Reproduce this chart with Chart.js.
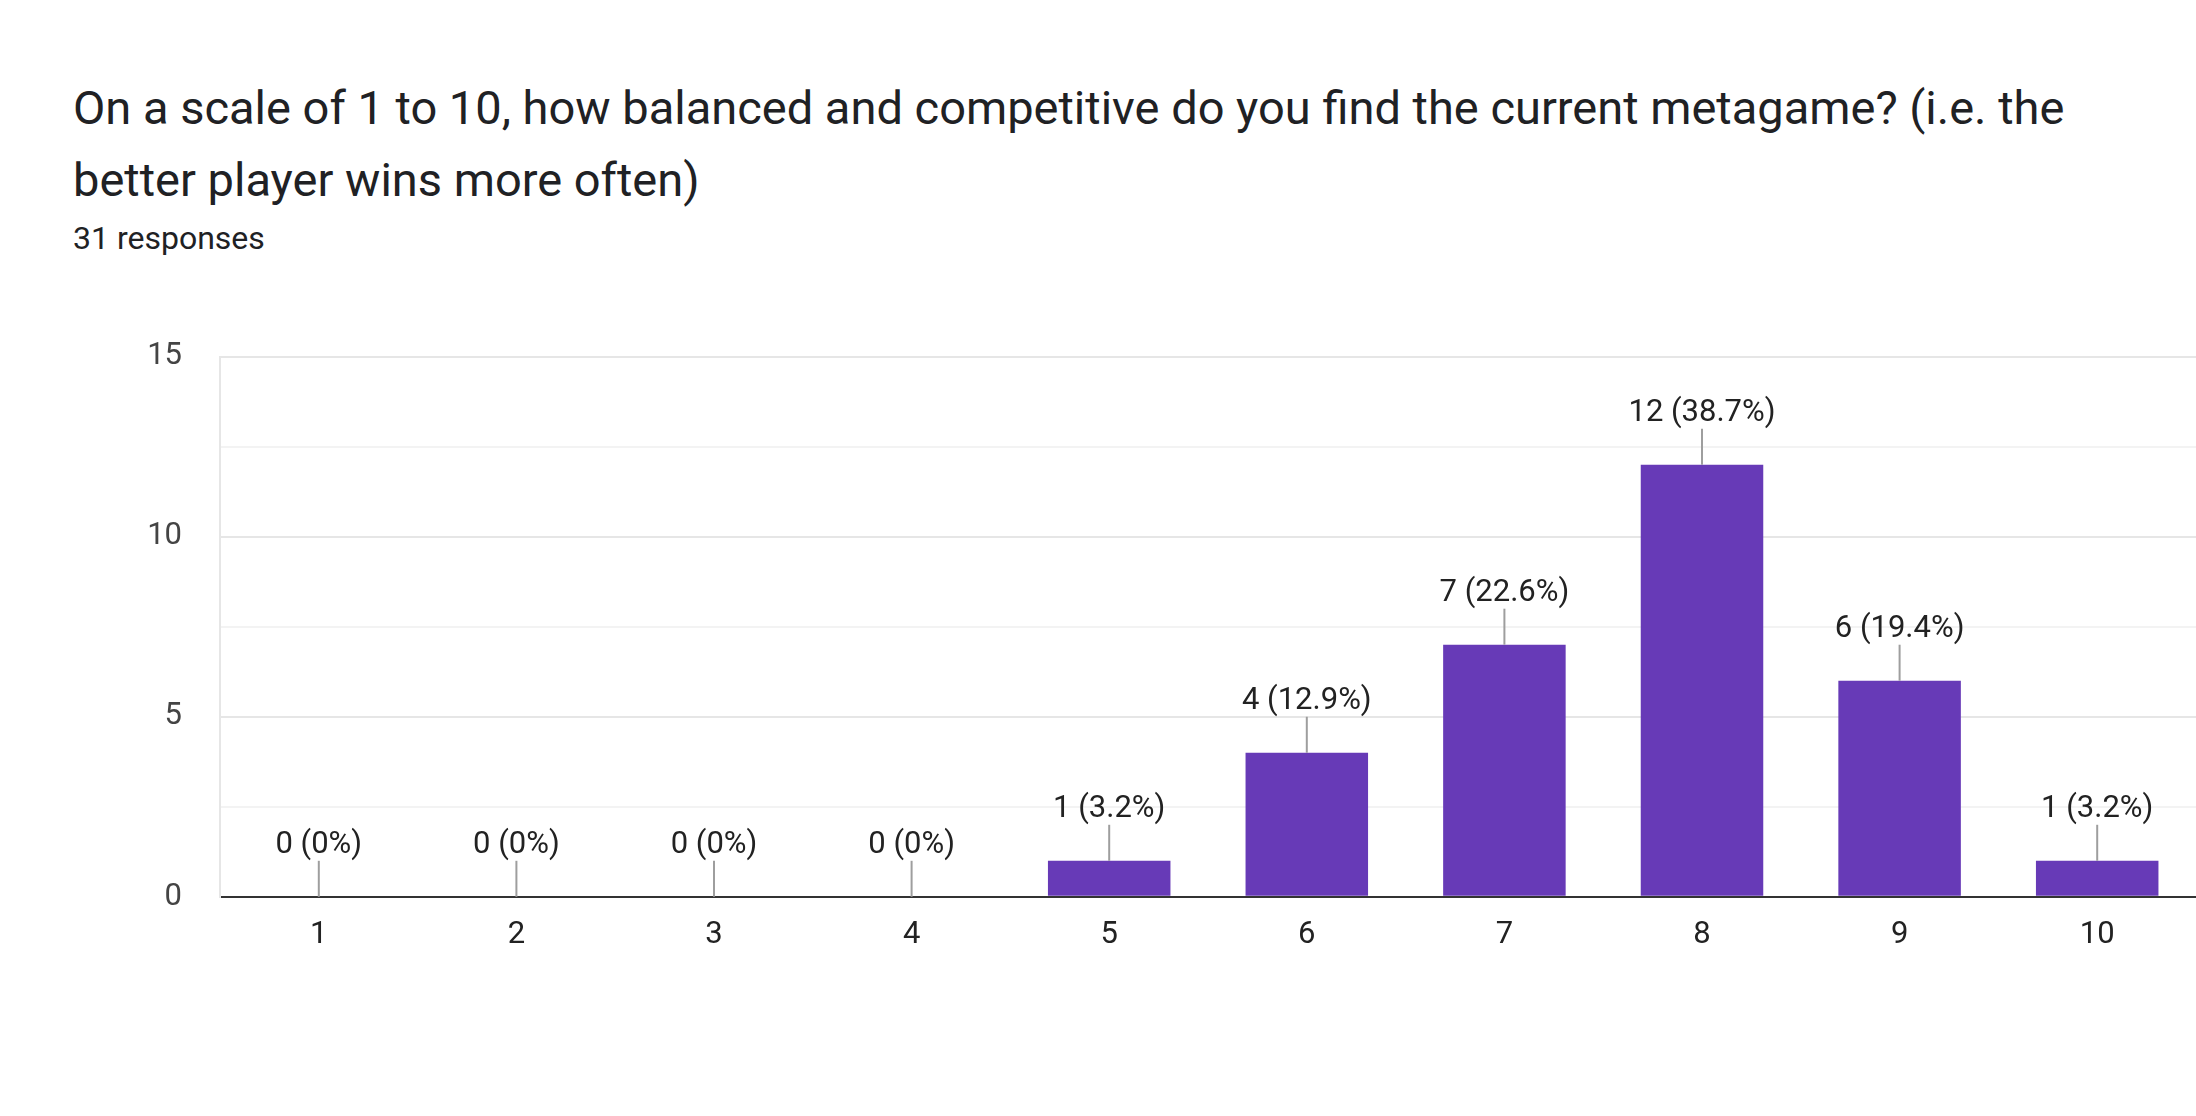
<!DOCTYPE html>
<html>
<head>
<meta charset="utf-8">
<script src="https://cdn.jsdelivr.net/npm/chart.js@4"></script>
<style>
  body { margin: 0; width: 2196px; height: 1116px; background: #fff; font-family: Roboto, sans-serif; overflow: hidden; position: relative; }
  #title { position: absolute; left: 73px; top: 72px; width: 2100px; font-size: 47px; line-height: 72px; color: #202124; }
  #sub { position: absolute; left: 73px; top: 219px; font-size: 32px; color: #202124; }
  #wrap { position: absolute; left: 0; top: 300px; width: 2196px; height: 816px; }
</style>
</head>
<body>
<div id="title">On a scale of 1 to 10, how balanced and competitive do you find the current metagame? (i.e. the better player wins more often)</div>
<div id="sub">31 responses</div>
<div id="wrap"><canvas id="c"></canvas></div>
<script>
const categories = ['1', '2', '3', '4', '5', '6', '7', '8', '9', '10'];
const counts = [0, 0, 0, 0, 1, 4, 7, 12, 6, 1];
const percentLabels = ['0%', '0%', '0%', '0%', '3.2%', '12.9%', '22.6%', '38.7%', '19.4%', '3.2%'];

// labels above each bar with a small leader line
const barLabels = {
    id: 'barLabels',
    afterDatasetsDraw(chart) {
        const ctx = chart.ctx;
        const x = chart.scales.x, y = chart.scales.y;
        ctx.save();
        counts.forEach((v, i) => {
            const px = x.getPixelForValue(i);
            const top = y.getPixelForValue(v);
            ctx.strokeStyle = '#9e9e9e';
            ctx.lineWidth = 2;
            ctx.beginPath();
            ctx.moveTo(px, top);
            ctx.lineTo(px, top - 36);
            ctx.stroke();
            ctx.fillStyle = '#222';
            ctx.font = '31px Roboto';
            ctx.textAlign = 'center';
            ctx.textBaseline = 'alphabetic';
            ctx.fillText(v + ' (' + percentLabels[i] + ')', px, top - 44);
        });
        ctx.restore();
    }
};

new Chart(document.getElementById('c'), {
    type: 'bar',
    data: {
        labels: categories,
        datasets: [{
            data: counts,
            backgroundColor: '#673ab7',
            categoryPercentage: 1,
            barPercentage: 0.62
        }]
    },
    options: {
        responsive: true,
        maintainAspectRatio: false,
        animation: false,
        layout: { padding: { top: 54, right: 0, bottom: 150, left: 0 } },
        plugins: { legend: { display: false }, tooltip: { enabled: false } },
        scales: {
            x: {
                grid: { display: false },
                border: { color: '#333', width: 2 },
                ticks: { color: '#222', font: { family: 'Roboto', size: 31 }, padding: 12 }
            },
            y: {
                min: 0, max: 15,
                afterFit(scale) { scale.width = 220; },
                grid: {
                    color: ctx => (ctx.tick && ctx.tick.value % 5 === 0) ? '#e6e6e6' : '#f3f3f3',
                    lineWidth: 2,
                    drawTicks: false
                },
                border: { color: '#e6e6e6', width: 2 },
                ticks: {
                    stepSize: 2.5,
                    color: '#444',
                    font: { family: 'Roboto', size: 31 },
                    padding: 38,
                    callback: v => v % 5 === 0 ? v : ''
                }
            }
        }
    },
    plugins: [barLabels]
});
</script>
</body>
</html>
